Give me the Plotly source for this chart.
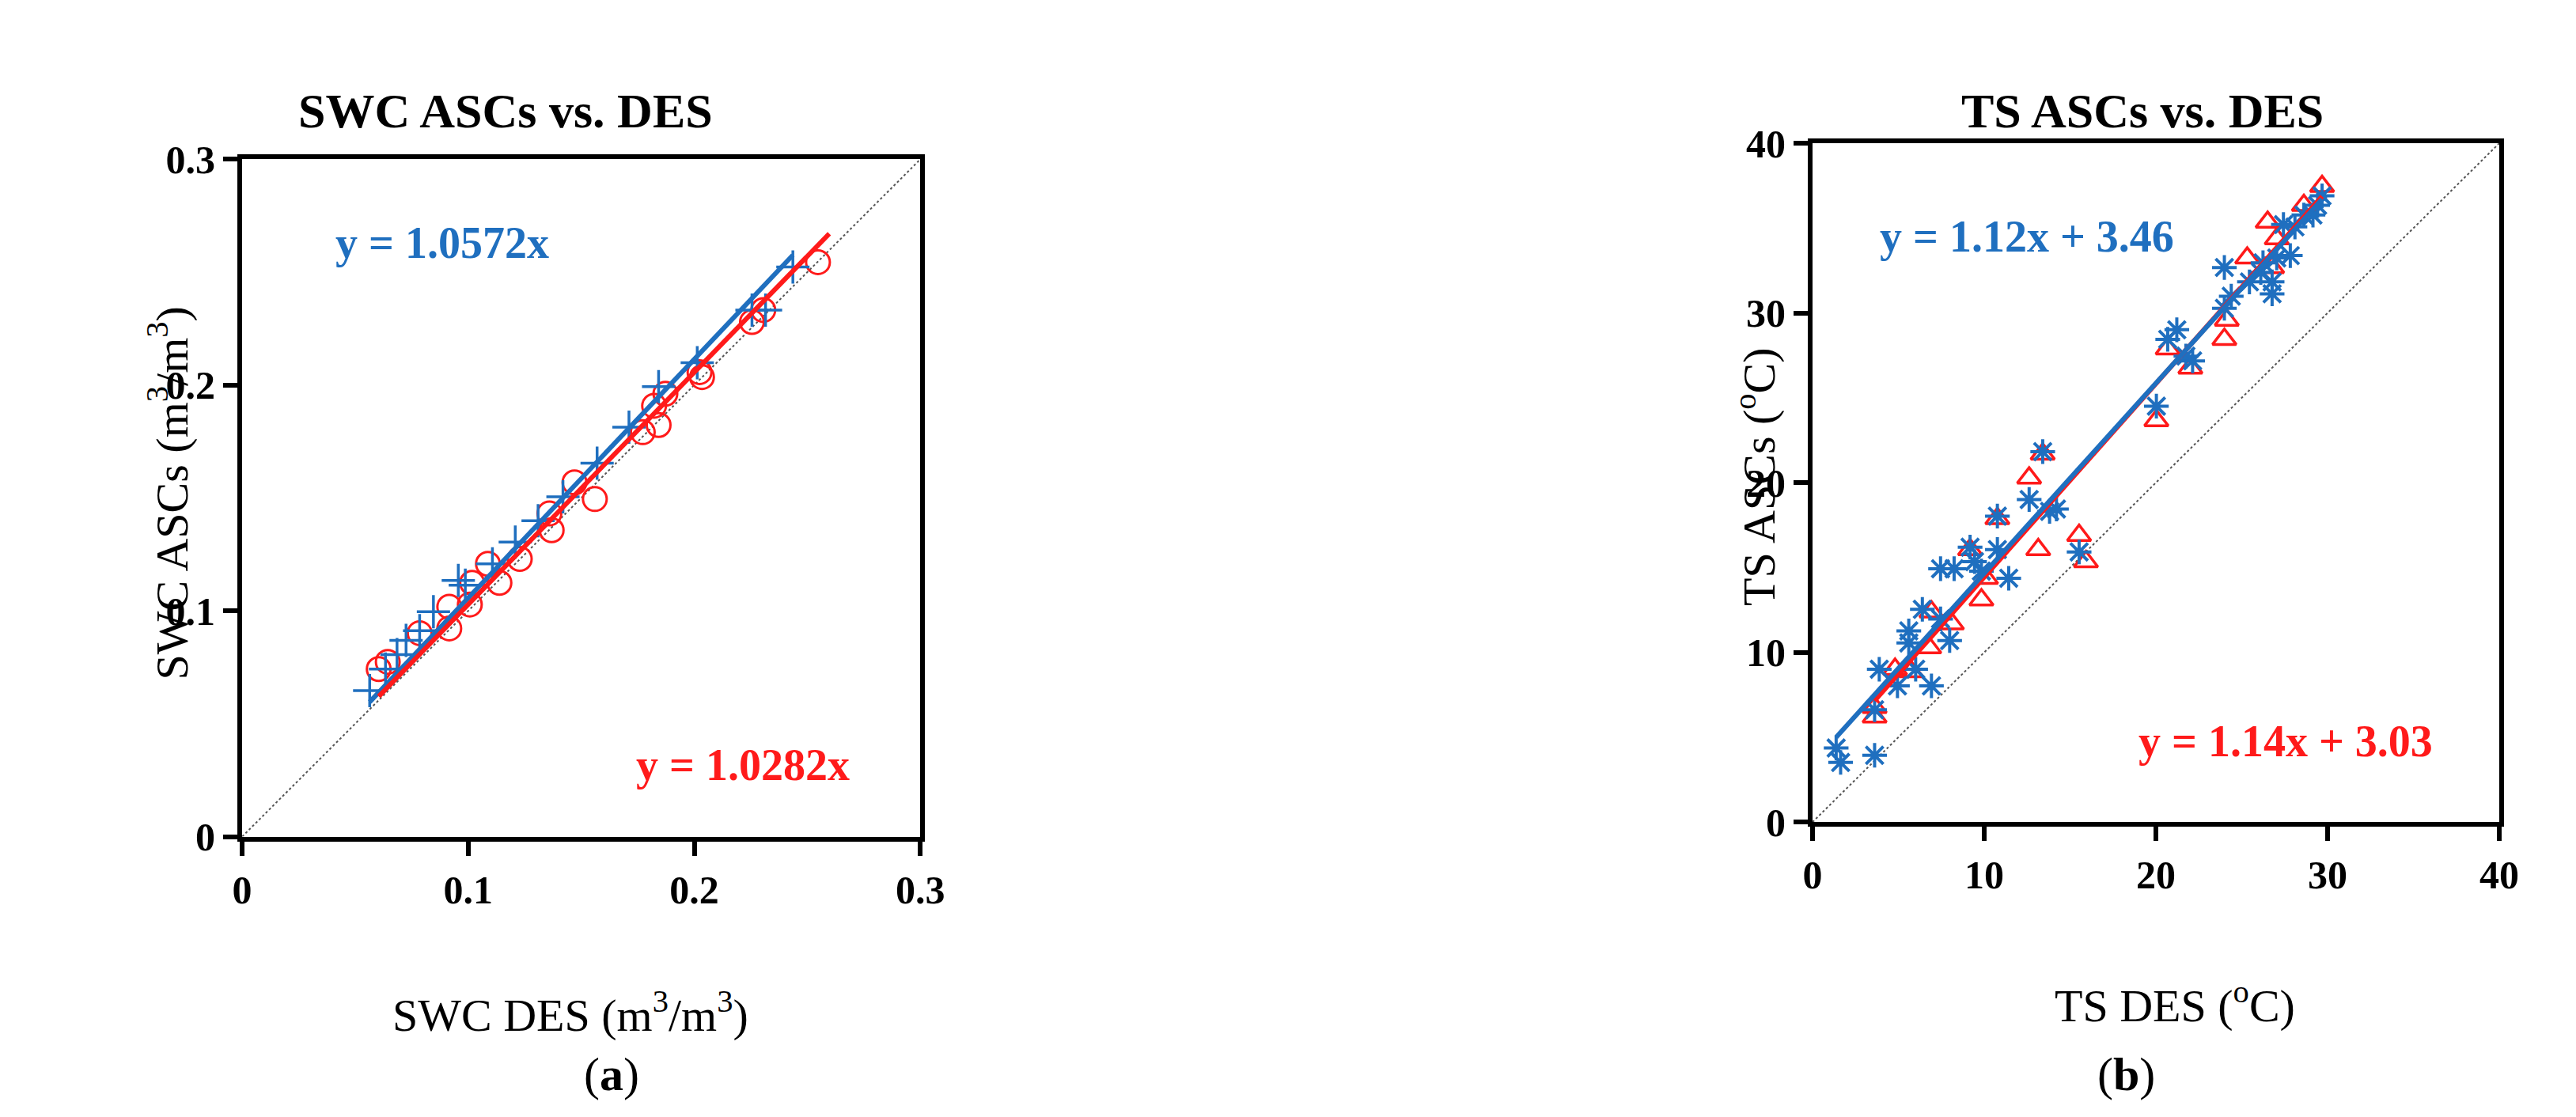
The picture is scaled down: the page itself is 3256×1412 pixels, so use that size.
import numpy as np
import plotly.graph_objects as go

# --- (a) SWC, m3/m3 ---
swc_red_x = [0.0604, 0.0644, 0.0785, 0.0916, 0.1007, 0.0916, 0.1017, 0.1087, 0.1138, 0.1228, 0.1359, 0.1369,
             0.1470, 0.1560, 0.1772, 0.1842, 0.1822, 0.1872, 0.2023, 0.2034, 0.2255, 0.2305, 0.2547]
swc_red_y = [0.0742, 0.0774, 0.0901, 0.0922, 0.1028, 0.1018, 0.1124, 0.1208, 0.1124, 0.1230, 0.1431, 0.1357,
             0.1569, 0.1495, 0.1791, 0.1823, 0.1908, 0.1961, 0.2057, 0.2035, 0.2279, 0.2332, 0.2544]
swc_blue_x = [0.0564, 0.0634, 0.0685, 0.0725, 0.0785, 0.0846, 0.0956, 0.0987, 0.1107, 0.1208, 0.1309, 0.1419,
              0.1570, 0.1711, 0.1842, 0.2013, 0.2255, 0.2315, 0.2436]
swc_blue_y = [0.0647, 0.0742, 0.0806, 0.0869, 0.0912, 0.0996, 0.1134, 0.1113, 0.1208, 0.1304, 0.1399, 0.1505,
              0.1654, 0.1813, 0.1993, 0.2099, 0.2332, 0.2332, 0.2523]
swc_blue_slope = 1.0572
swc_red_slope = 1.0282

# --- (b) TS, degC ---
ts_red_x = [3.62, 3.62, 4.81, 5.74, 6.93, 6.80, 8.12, 9.18, 9.84, 10.11, 10.77, 12.62, 13.15, 13.41, 15.53, 15.93,
            20.03, 20.69, 22.01, 23.99, 24.13, 25.32, 26.51, 26.77, 27.04, 28.62, 29.68]
ts_red_y = [6.20, 6.76, 9.01, 8.87, 12.39, 10.28, 11.69, 16.06, 13.10, 14.37, 17.89, 20.28, 16.06, 21.69, 16.90, 15.35,
            23.66, 27.89, 26.76, 28.45, 29.58, 33.24, 35.35, 32.68, 34.37, 36.34, 37.46]
ts_blue_x = [1.38, 1.64, 3.62, 3.62, 3.89, 4.95, 5.61, 5.61, 6.01, 6.40, 6.93, 7.46, 7.46, 8.25, 7.99, 9.18, 9.44,
             9.84, 10.77, 10.77, 11.43, 12.62, 13.81, 14.21, 13.41, 15.53, 20.03, 20.69, 21.22, 21.75, 22.14, 23.99,
             24.39, 23.99, 25.45, 26.11, 26.77, 26.77, 27.04, 27.43, 27.83, 28.10, 28.62, 29.15, 29.42, 29.68, 26.24]
ts_blue_y = [4.37, 3.52, 3.94, 6.62, 9.01, 8.03, 11.27, 10.56, 9.01, 12.54, 8.03, 11.97, 14.93, 14.93, 10.70, 16.20,
             15.35, 14.79, 16.06, 18.03, 14.37, 19.01, 18.31, 18.45, 21.83, 15.92, 24.51, 28.45, 29.01, 27.46, 27.18,
             32.68, 30.99, 30.28, 31.83, 32.39, 31.13, 31.83, 33.24, 35.21, 33.38, 35.07, 35.77, 35.77, 36.34, 36.90,
             32.96]
ts_blue_fit = (1.12, 3.46)
ts_red_fit = (1.14, 3.03)

BLUE = '#1f6fbf'
RED = '#ff1a1a'
FONT = 'Liberation Serif'

fig = go.Figure()

# panel a
fig.add_trace(go.Scatter(x=[0, 0.3], y=[0, 0.3], mode='lines', line=dict(color='#555', width=2, dash='dot'),
                         xaxis='x', yaxis='y'))
fig.add_trace(go.Scatter(x=swc_red_x, y=swc_red_y, mode='markers', xaxis='x', yaxis='y',
                         marker=dict(symbol='circle-open', size=30, color=RED, line=dict(width=3))))
fig.add_trace(go.Scatter(x=swc_blue_x, y=swc_blue_y, mode='markers', xaxis='x', yaxis='y',
                         marker=dict(symbol='cross-thin-open', size=30, color=BLUE, line=dict(width=3.5, color=BLUE))))
xb = np.array([min(swc_blue_x), max(swc_blue_x)])
xr = np.array([min(swc_red_x), max(swc_red_x) + 0.005])
fig.add_trace(go.Scatter(x=xb, y=swc_blue_slope * xb, mode='lines', line=dict(color=BLUE, width=6), xaxis='x', yaxis='y'))
fig.add_trace(go.Scatter(x=xr, y=swc_red_slope * xr, mode='lines', line=dict(color=RED, width=6), xaxis='x', yaxis='y'))

# panel b
fig.add_trace(go.Scatter(x=[0, 40], y=[0, 40], mode='lines', line=dict(color='#555', width=2, dash='dot'),
                         xaxis='x2', yaxis='y2'))
fig.add_trace(go.Scatter(x=ts_red_x, y=ts_red_y, mode='markers', xaxis='x2', yaxis='y2',
                         marker=dict(symbol='triangle-up-open', size=26, color=RED, line=dict(width=3.5))))
fig.add_trace(go.Scatter(x=ts_blue_x, y=ts_blue_y, mode='markers', xaxis='x2', yaxis='y2',
                         marker=dict(symbol='asterisk-open', size=26, color=BLUE, line=dict(width=4, color=BLUE))))
xb2 = np.array([min(ts_blue_x), max(ts_blue_x)])
xr2 = np.array([min(ts_red_x), max(ts_red_x)])
fig.add_trace(go.Scatter(x=xr2, y=ts_red_fit[0] * xr2 + ts_red_fit[1], mode='lines', line=dict(color=RED, width=6),
                         xaxis='x2', yaxis='y2'))
fig.add_trace(go.Scatter(x=xb2, y=ts_blue_fit[0] * xb2 + ts_blue_fit[1], mode='lines', line=dict(color=BLUE, width=6),
                         xaxis='x2', yaxis='y2'))

W, H = 3256, 1412
def fx(px):
    return px / W
def fy(py):
    return 1 - py / H

ax_common = dict(showline=True, linewidth=6, linecolor='black', mirror=True, ticks='outside', ticklen=18,
                 tickwidth=6, tickcolor='black', showgrid=False, zeroline=False,
                 tickfont=dict(family=FONT, size=50, color='black'))

fig.update_layout(
    width=W, height=H, showlegend=False, paper_bgcolor='white', plot_bgcolor='white',
    margin=dict(l=0, r=0, t=0, b=0),
    font=dict(family=FONT, color='black'),
    xaxis=dict(ax_common, domain=[fx(289), fx(1158)], range=[0, 0.3], tickvals=[0, 0.1, 0.2, 0.3],
               ticktext=['<b>0</b>', '<b>0.1</b>', '<b>0.2</b>', '<b>0.3</b>'], anchor='y'),
    yaxis=dict(ax_common, domain=[fy(1064), fy(173)], range=[0, 0.3], tickvals=[0, 0.1, 0.2, 0.3],
               ticktext=['<b>0</b>', '<b>0.1</b>', '<b>0.2</b>', '<b>0.3</b>'], anchor='x'),
    xaxis2=dict(ax_common, domain=[fx(2301), fx(3181)], range=[0, 40], tickvals=[0, 10, 20, 30, 40],
                ticktext=['<b>%d</b>' % v for v in [0, 10, 20, 30, 40]], anchor='y2'),
    yaxis2=dict(ax_common, domain=[fy(1045), fy(152)], range=[0, 40], tickvals=[0, 10, 20, 30, 40],
                ticktext=['<b>%d</b>' % v for v in [0, 10, 20, 30, 40]], anchor='x2'),
)

ann = [
    dict(x=0.0886, y=0.263, xref='x', yref='y', text='<b>y = 1.0572x</b>', font=dict(size=56, color=BLUE)),
    dict(x=0.2215, y=0.0318, xref='x', yref='y', text='<b>y = 1.0282x</b>', font=dict(size=56, color=RED)),
    dict(x=12.49, y=34.5, xref='x2', yref='y2', text='<b>y = 1.12x + 3.46</b>', font=dict(size=56, color=BLUE)),
    dict(x=27.57, y=4.79, xref='x2', yref='y2', text='<b>y = 1.14x + 3.03</b>', font=dict(size=56, color=RED)),
    dict(x=fx(626), y=fy(109), xref='paper', yref='paper', text='<b>SWC ASCs vs. DES</b>', font=dict(size=62)),
    dict(x=fx(2724), y=fy(109), xref='paper', yref='paper', text='<b>TS ASCs vs. DES</b>', font=dict(size=62)),
    dict(x=fx(710), y=fy(1295), xref='paper', yref='paper', text='SWC DES (m<sup>3</sup>/m<sup>3</sup>)',
         font=dict(size=58)),
    dict(x=fx(2765), y=fy(1282), xref='paper', yref='paper', text='TS DES (<sup>o</sup>C)', font=dict(size=58)),
    dict(x=fx(194), y=fy(612), xref='paper', yref='paper', text='SWC ASCs (m<sup>3</sup>/m<sup>3</sup>)',
         font=dict(size=58), textangle=-90),
    dict(x=fx(2228), y=fy(590), xref='paper', yref='paper', text='TS ASCs (<sup>o</sup>C)', font=dict(size=58),
         textangle=-90),
    dict(x=fx(762), y=fy(1377), xref='paper', yref='paper', text='(<b>a</b>)', font=dict(size=60)),
    dict(x=fx(2703), y=fy(1377), xref='paper', yref='paper', text='(<b>b</b>)', font=dict(size=60)),
]
for a in ann:
    a.update(showarrow=False, xanchor='center', yanchor='middle')
    a['font'].setdefault('family', FONT)
    a['font'].setdefault('color', 'black')
fig.update_layout(annotations=ann)

fig.write_html("out.html")
